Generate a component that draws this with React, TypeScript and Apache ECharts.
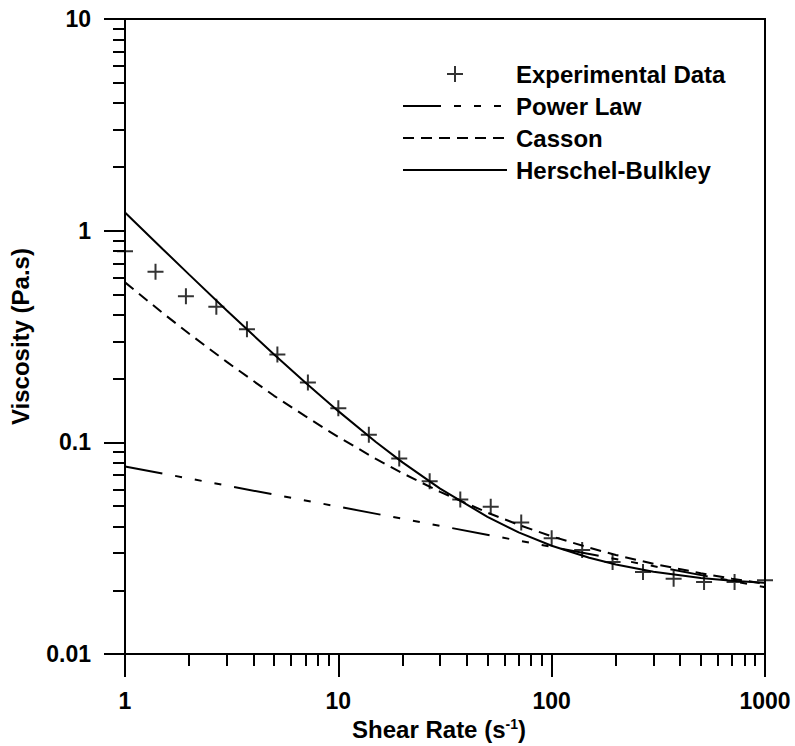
import React, { useEffect, useRef } from 'react';
import * as echarts from 'echarts';

// ---- Data ----
const xTicks = [1, 10, 100, 1000];
const xTickLabels = ['1', '10', '100', '1000'];
const yTicks = [0.01, 0.1, 1, 10];
const yTickLabels = ['0.01', '0.1', '1', '10'];
const xMinorTicks = [2, 3, 4, 5, 6, 7, 8, 9, 20, 30, 40, 50, 60, 70, 80, 90, 200, 300, 400, 500, 600, 700, 800, 900];
const yMinorTicks = [0.02, 0.03, 0.04, 0.05, 0.06, 0.07, 0.08, 0.09, 0.2, 0.3, 0.4, 0.5, 0.6, 0.7, 0.8, 0.9, 2, 3, 4, 5, 6, 7, 8, 9];

const seriesNames = ['Experimental Data', 'Power Law', 'Casson', 'Herschel-Bulkley'];

const expShear = [1, 1.39, 1.93, 2.68, 3.73, 5.18, 7.2, 10, 13.9, 19.3, 26.8, 37.3, 51.8, 72, 100, 139, 193, 268, 373, 518, 720, 1000];
const expViscosity = [0.8, 0.64, 0.49, 0.437, 0.342, 0.26, 0.192, 0.145, 0.1086, 0.084, 0.0656, 0.0538, 0.0496, 0.0418, 0.0353, 0.031, 0.0272, 0.0244, 0.0227, 0.0219, 0.0219, 0.0223];

const powerShear = [1, 10, 100, 1000];
const powerViscosity = [0.077, 0.0497, 0.0321, 0.0207];

const modelShear = [1, 1.5, 2, 3, 5, 7, 10, 15, 20, 30, 50, 70, 100, 150, 200, 300, 500, 700, 1000];
const cassonViscosity = [0.57, 0.409, 0.326, 0.24, 0.166, 0.133, 0.106, 0.0836, 0.0715, 0.0584, 0.0466, 0.0408, 0.036, 0.0318, 0.0294, 0.0267, 0.0241, 0.0227, 0.0215];
const hbViscosity = [1.22, 0.82, 0.62, 0.42, 0.26, 0.192, 0.1405, 0.1005, 0.0805, 0.0605, 0.0445, 0.0376, 0.0325, 0.0285, 0.0265, 0.0245, 0.0229, 0.0222, 0.0217];

const FONT = "'Liberation Sans', Arial, Helvetica, sans-serif";
const CROSS = 'path://M7,0H9V7H16V9H9V16H7V9H0V7H7Z';

const pair = (xs: number[], ys: number[]) => xs.map((x, i) => [x, ys[i]]);
const lookup = (ticks: number[], labels: string[]) => (v: number) => {
  let best = 0;
  ticks.forEach((t, i) => {
    if (Math.abs(Math.log10(t) - Math.log10(v)) < Math.abs(Math.log10(ticks[best]) - Math.log10(v))) best = i;
  });
  return labels[best];
};

export default function App() {
  const ref = useRef<HTMLDivElement>(null);
  useEffect(() => {
    document.body.style.margin = '0';
    if (!ref.current) return;
    const chart = echarts.init(ref.current, null, { renderer: 'svg' });
    const axisLineStyle = { color: '#000', width: 2 };
    const labelStyle = { color: '#000', fontSize: 23, fontWeight: 'bold' as const, fontFamily: FONT };
    chart.setOption({
      animation: false,
      backgroundColor: '#fff',
      grid: { left: 125, right: 30, top: 19, bottom: 86, show: true, borderColor: '#000', borderWidth: 2, containLabel: false },
      legend: {
        orient: 'vertical',
        left: 397,
        top: 57,
        itemWidth: 104,
        itemHeight: 16,
        itemGap: 8,
        selectedMode: false,
        textStyle: { color: '#000', fontSize: 24, fontWeight: 'bold', fontFamily: FONT, lineHeight: 24, padding: [0, 0, 0, 4] },
        data: [
          { name: seriesNames[0], icon: CROSS },
          { name: seriesNames[1], itemStyle: { opacity: 0 } },
          { name: seriesNames[2], itemStyle: { opacity: 0 } },
          { name: seriesNames[3], itemStyle: { opacity: 0 } },
        ],
      },
      xAxis: [
        {
          type: 'log', logBase: 10, min: 1, max: 1000, position: 'bottom',
          name: 'Shear Rate (s{sup|-1})', nameLocation: 'middle', nameGap: 48,
          nameTextStyle: { color: '#000', fontSize: 24, fontWeight: 'bold', fontFamily: FONT, padding: [0, 12, 0, 0],
            rich: { sup: { fontSize: 14, fontWeight: 'bold', fontFamily: FONT, color: '#000', verticalAlign: 'top', lineHeight: 14 } } },
          axisLine: { show: true, lineStyle: axisLineStyle },
          axisTick: { show: true, length: 23, lineStyle: axisLineStyle, customValues: xTicks },
          axisLabel: { ...labelStyle, margin: 35, customValues: xTicks, formatter: lookup(xTicks, xTickLabels) },
          splitLine: { show: false },
          minorTick: { show: false },
        },
        {
          type: 'log', logBase: 10, min: 1, max: 1000, position: 'bottom', offset: 0,
          axisLine: { show: false },
          axisTick: { show: true, length: 12, lineStyle: axisLineStyle, customValues: xMinorTicks },
          axisLabel: { show: false },
          splitLine: { show: false },
        },
      ],
      yAxis: [
        {
          type: 'log', logBase: 10, min: 0.01, max: 10, position: 'left',
          name: 'Viscosity (Pa.s)', nameLocation: 'middle', nameGap: 93, nameRotate: 90,
          nameTextStyle: { color: '#000', fontSize: 24, fontWeight: 'bold', fontFamily: FONT },
          axisLine: { show: true, lineStyle: axisLineStyle },
          axisTick: { show: true, length: 21, lineStyle: axisLineStyle, customValues: yTicks },
          axisLabel: { ...labelStyle, margin: 34, customValues: yTicks, formatter: lookup(yTicks, yTickLabels) },
          splitLine: { show: false },
        },
        {
          type: 'log', logBase: 10, min: 0.01, max: 10, position: 'left', offset: 0,
          axisLine: { show: false },
          axisTick: { show: true, length: 12, lineStyle: axisLineStyle, customValues: yMinorTicks },
          axisLabel: { show: false },
          splitLine: { show: false },
        },
      ],
      series: [
        {
          name: seriesNames[0], type: 'scatter', xAxisIndex: 0, yAxisIndex: 0,
          symbol: CROSS, symbolSize: 16, itemStyle: { color: '#000' },
          data: pair(expShear, expViscosity), z: 5,
        },
        {
          name: seriesNames[1], type: 'line', xAxisIndex: 0, yAxisIndex: 0, symbol: 'none', showSymbol: false,
          lineStyle: { color: '#000', width: 2, type: [38, 13, 7, 13, 7, 13, 7, 13] },
          itemStyle: { color: '#000' },
          data: pair(powerShear, powerViscosity),
        },
        {
          name: seriesNames[2], type: 'line', xAxisIndex: 0, yAxisIndex: 0, symbol: 'none', showSymbol: false,
          lineStyle: { color: '#000', width: 2, type: [11, 7] },
          itemStyle: { color: '#000' },
          data: pair(modelShear, cassonViscosity),
        },
        {
          name: seriesNames[3], type: 'line', xAxisIndex: 0, yAxisIndex: 0, symbol: 'none', showSymbol: false,
          lineStyle: { color: '#000', width: 2, type: 'solid' },
          itemStyle: { color: '#000' },
          data: pair(modelShear, hbViscosity),
        },
      ],
    });
    return () => chart.dispose();
  }, []);
  return <div ref={ref} style={{ width: 795, height: 746 }} />;
}
